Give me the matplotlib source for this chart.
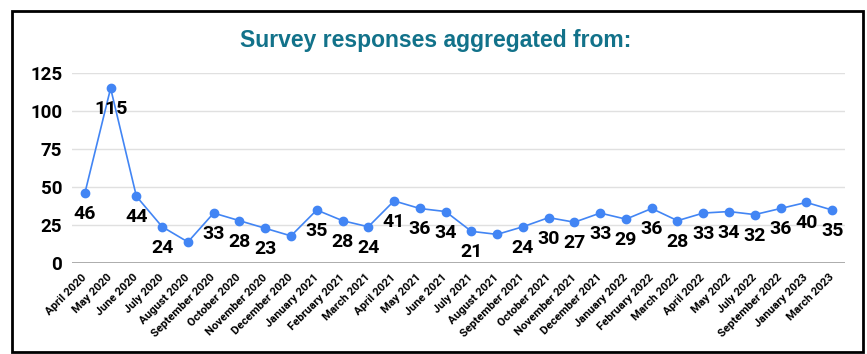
import matplotlib
matplotlib.use("Agg")
import matplotlib.pyplot as plt
from matplotlib.patches import Rectangle

months = ["April 2020", "May 2020", "June 2020", "July 2020", "August 2020",
          "September 2020", "October 2020", "November 2020", "December 2020",
          "January 2021", "February 2021", "March 2021", "April 2021",
          "May 2021", "June 2021", "July 2021", "August 2021",
          "September 2021", "October 2021", "November 2021", "December 2021",
          "January 2022", "February 2022", "March 2022", "April 2022",
          "May 2022", "July 2022", "September 2022", "January 2023",
          "March 2023"]
responses = [46, 115, 44, 24, 14, 33, 28, 23, 18, 35, 28, 24, 41, 36, 34,
             21, 19, 24, 30, 27, 33, 29, 36, 28, 33, 34, 32, 36, 40, 35]
# a few low points carry no value label
show_label = [True, True, True, True, False, True, True, True, False, True,
              True, True, True, True, True, True, False, True, True, True,
              True, True, True, True, True, True, True, True, True, True]
yticks = [0, 25, 50, 75, 100, 125]

blue = "#4285f4"
teal = "#12728a"

fig = plt.figure(figsize=(8.67, 3.54), dpi=100)
ax = fig.add_axes([0.083, 0.2562, 0.8916, 0.5376])

x = list(range(len(months)))
ax.plot(x, responses, color=blue, lw=1.2, marker="o", ms=6, zorder=3)

for xi, v, show in zip(x, responses, show_label):
    if not show:
        continue
    ax.annotate(str(v), (xi, v), xytext=(0, -21), textcoords="offset pixels",
                ha="center", va="center", fontsize=14, fontweight="bold",
                family="Roboto", color="black", zorder=4)

ax.set_xlim(-0.5, len(months) - 0.5)
ax.set_ylim(0, 125)
ax.set_yticks(yticks)
ax.set_yticklabels([str(t) for t in yticks], fontsize=13.5,
                   fontweight="bold", family="Roboto")
ax.set_xticks(x)
ax.set_xticklabels(months, rotation=45, ha="right", va="center",
                   rotation_mode="anchor", fontsize=8.2, fontweight="bold",
                   family="Roboto")
ax.tick_params(axis="both", length=0)
ax.tick_params(axis="y", pad=7)
ax.tick_params(axis="x", pad=9)

for t in yticks[1:]:
    ax.axhline(t, color="#e0e0e0", lw=1, zorder=1)
ax.axhline(0, color="#9e9e9e", lw=1.2, zorder=2)
for s in ax.spines.values():
    s.set_visible(False)

fig.text(0.503, 0.887, "Survey responses aggregated from:", ha="center",
         va="center", fontsize=16.5, fontweight="bold",
         family="Liberation Sans", color=teal)

fig.patches.append(Rectangle((0.0138, 0.0056), 0.9815, 0.963,
                             transform=fig.transFigure, fill=False,
                             edgecolor="black", lw=2))

fig.savefig("out.png", dpi=100)
